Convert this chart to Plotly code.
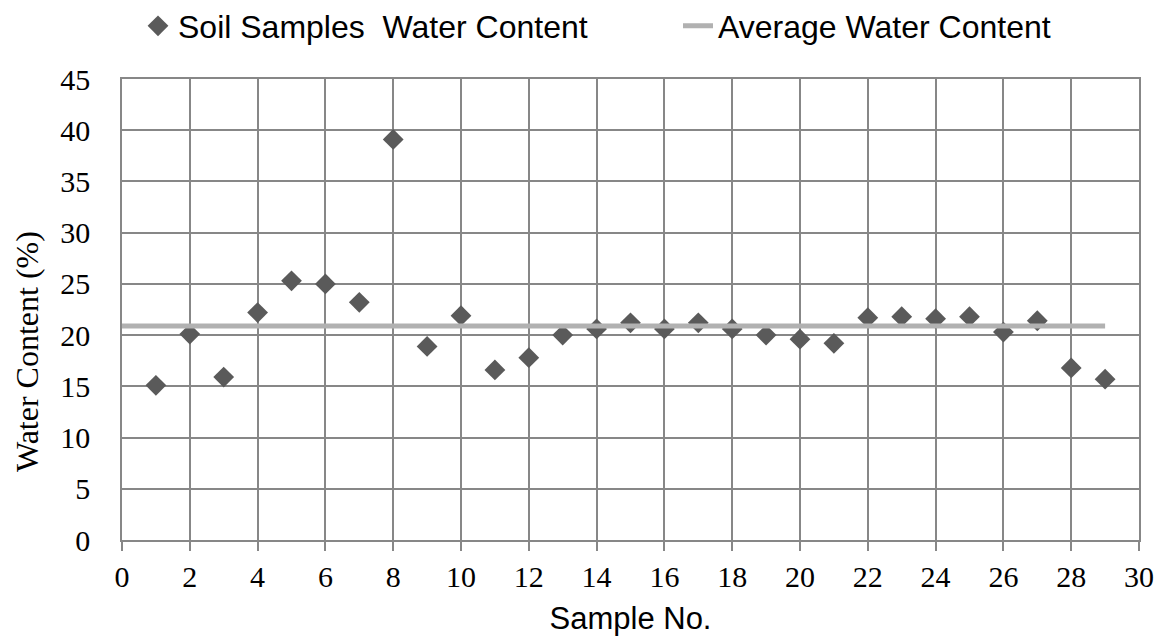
import plotly.graph_objects as go

sample_no = list(range(1, 30))
water_content = [15.1, 20.1, 15.9, 22.2, 25.3, 25.0, 23.2, 39.1, 18.9, 21.9,
                 16.6, 17.8, 20.0, 20.6, 21.2, 20.6, 21.2, 20.6, 20.0, 19.6,
                 19.2, 21.7, 21.8, 21.6, 21.8, 20.3, 21.4, 16.8, 15.7]
avg_x = [0, 29]
avg_value = 20.9
avg_y = [avg_value, avg_value]

x_ticks = list(range(0, 31, 2))
y_ticks = list(range(0, 46, 5))

SERIF = "Liberation Serif, Times New Roman, serif"
SANS = "Liberation Sans, Arial, sans-serif"
GRID = "#878787"

fig = go.Figure()
fig.add_trace(go.Scatter(
    x=sample_no, y=water_content, mode="markers",
    name="Soil Samples\u00a0 Water Content", legend="legend",
    marker=dict(symbol="diamond", size=16, color="#5a5a5a"),
))
fig.add_trace(go.Scatter(
    x=avg_x, y=avg_y, mode="lines",
    name="Average Water Content", legend="legend2",
    line=dict(color="#b1b1b1", width=5),
))

legend_common = dict(orientation="h", xref="container", yref="container",
                     xanchor="left", y=1 - 26 / 644, yanchor="middle",
                     font=dict(family=SANS, size=32, color="black"),
                     bgcolor="rgba(0,0,0,0)")

fig.update_layout(
    width=1167, height=644,
    margin=dict(l=122, r=28, t=79, b=104, autoexpand=False),
    paper_bgcolor="white", plot_bgcolor="white",
    showlegend=True,
    legend=dict(x=138 / 1167, **legend_common),
    legend2=dict(x=678 / 1167, **legend_common),
    annotations=[dict(
        text="Water Content (%)", textangle=-90, showarrow=False,
        xref="paper", yref="paper", x=(27 - 122) / 1017, y=(540 - 352) / 461,
        xanchor="center", yanchor="middle",
        font=dict(family=SERIF, size=32, color="black"),
    )],
)
fig.update_xaxes(
    range=[0, 30], tickvals=x_ticks, ticktext=[str(v) for v in x_ticks],
    showgrid=True, gridcolor=GRID, gridwidth=1.5,
    showline=True, linecolor=GRID, linewidth=1.5, mirror=True,
    ticks="outside", ticklen=9, tickcolor=GRID, tickwidth=1.5,
    zeroline=False,
    tickfont=dict(family=SERIF, size=30, color="black"),
    title=dict(text="Sample No.", font=dict(family=SANS, size=31, color="black"), standoff=16),
)
fig.update_yaxes(
    range=[0, 45], tickvals=y_ticks, ticktext=[str(v) for v in y_ticks],
    showgrid=True, gridcolor=GRID, gridwidth=1.5,
    showline=True, linecolor=GRID, linewidth=1.5, mirror=True,
    ticks="outside", ticklen=24, tickcolor="rgba(0,0,0,0)", zeroline=False,
    tickfont=dict(family=SERIF, size=30, color="black"),
)

fig.write_html("out.html")
